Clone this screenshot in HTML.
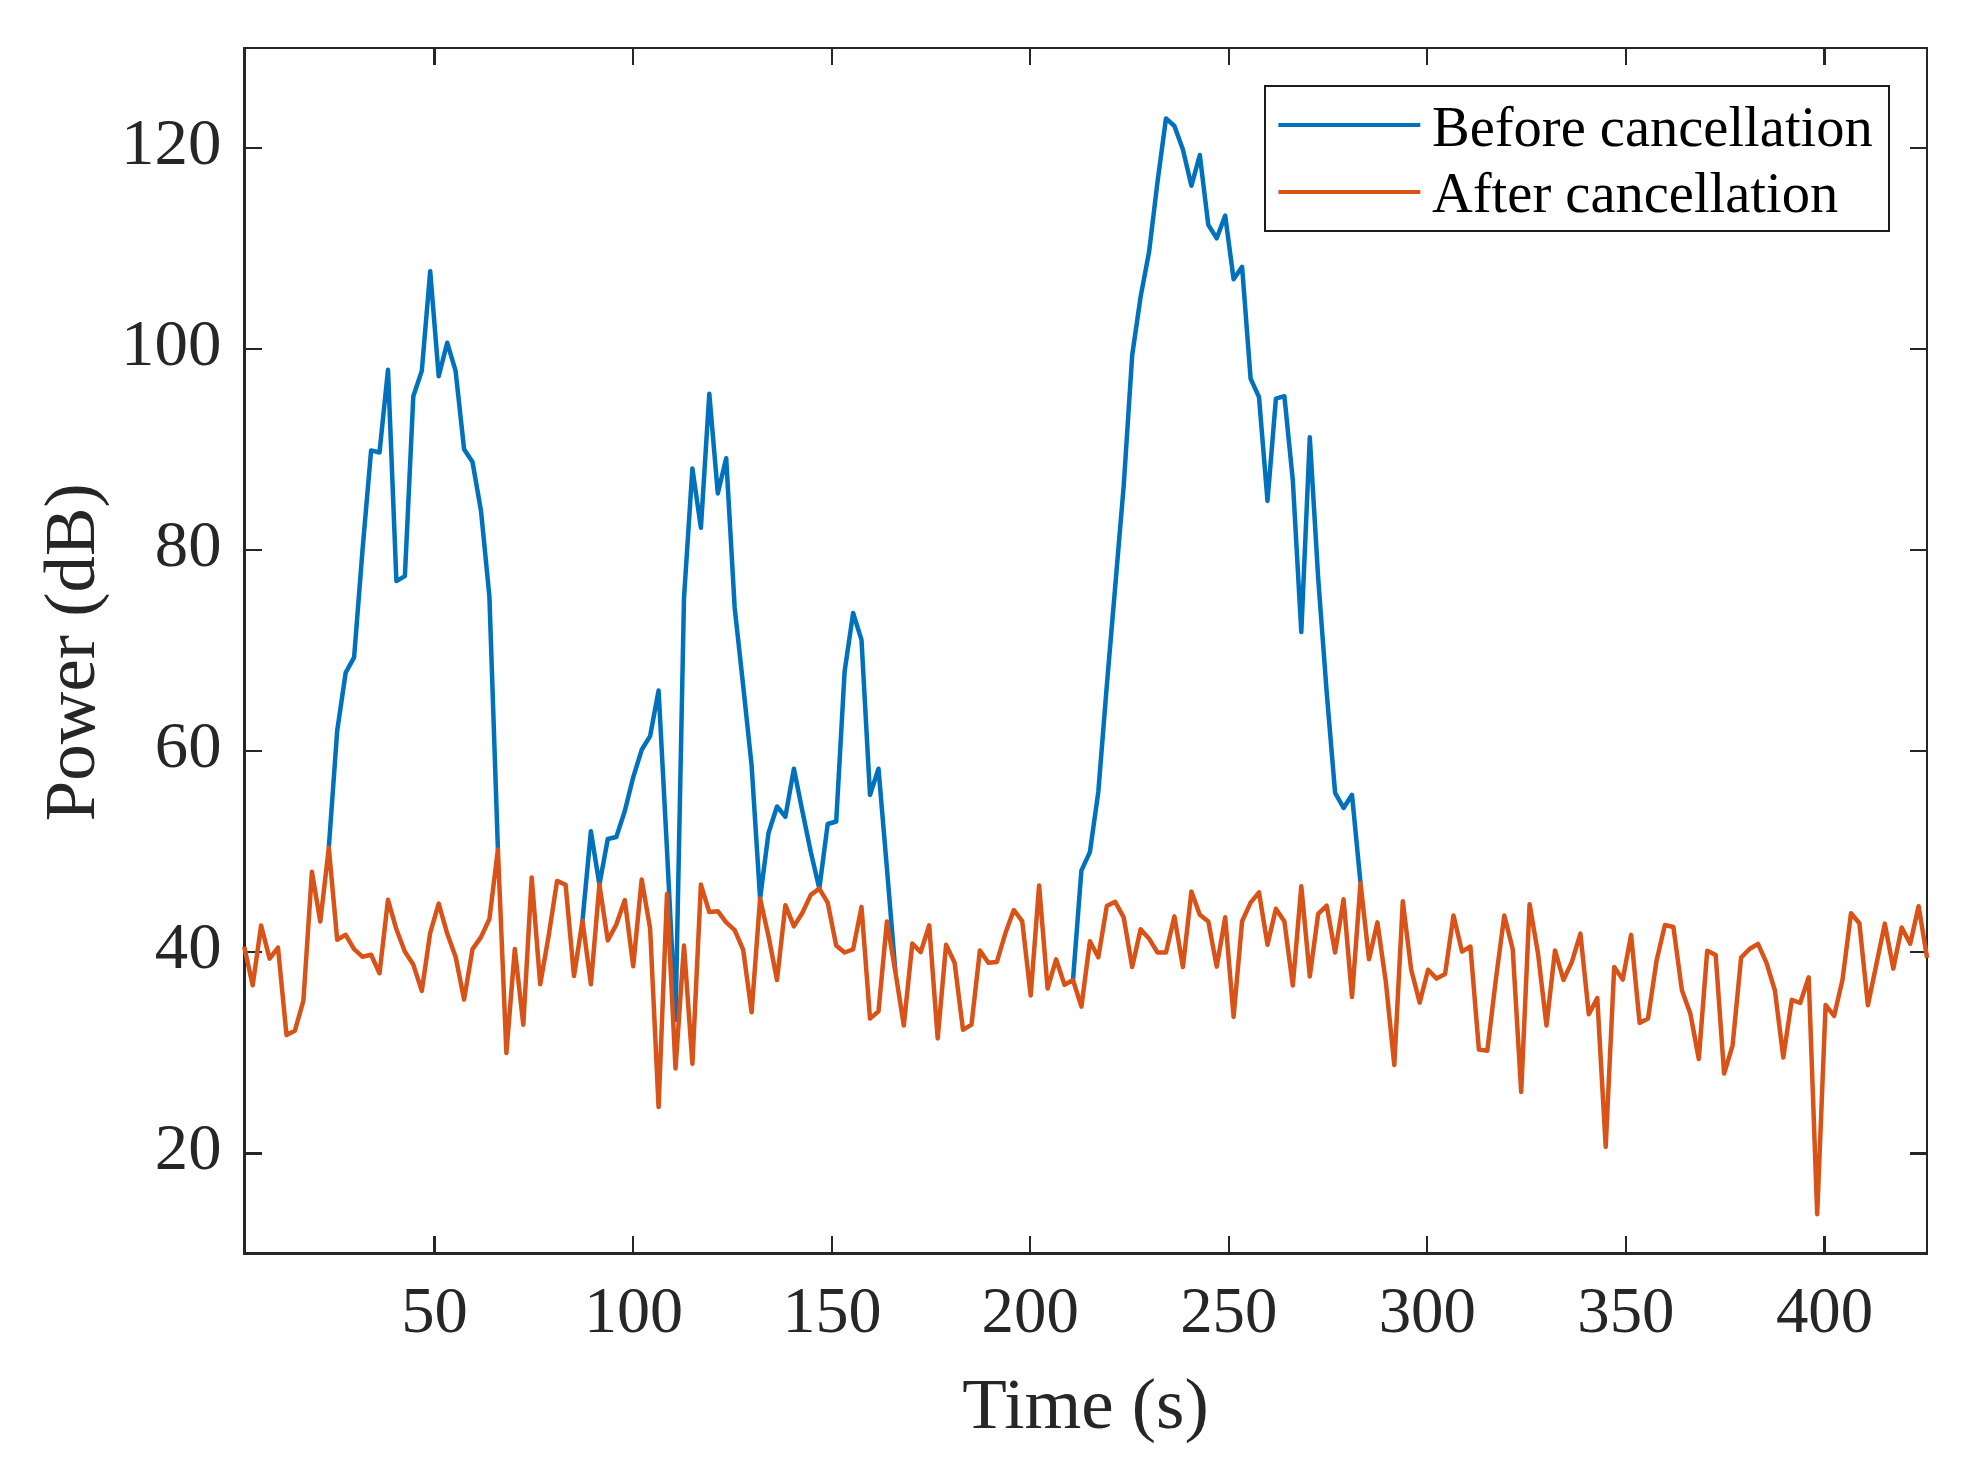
<!DOCTYPE html>
<html lang="en"><head><meta charset="utf-8"><title>Power before and after cancellation</title>
<style>html,body{margin:0;padding:0;background:#fff}svg{display:block}text{font-family:"Liberation Serif","DejaVu Serif",serif}</style></head><body>
<svg width="1979" height="1462" viewBox="0 0 1979 1462">
<rect x="0" y="0" width="1979" height="1462" fill="#ffffff"/>
<g fill="#262626" shape-rendering="crispEdges"><rect x="243" y="47" width="3" height="1208"/><rect x="1926" y="47" width="2" height="1208"/><rect x="243" y="47" width="1685" height="2"/><rect x="243" y="1252" width="1685" height="3"/><rect x="433" y="1236" width="3" height="17"/><rect x="433" y="48" width="3" height="17"/><rect x="632" y="1236" width="2" height="17"/><rect x="632" y="48" width="2" height="17"/><rect x="831" y="1236" width="2" height="17"/><rect x="831" y="48" width="2" height="17"/><rect x="1029" y="1236" width="2" height="17"/><rect x="1029" y="48" width="2" height="17"/><rect x="1228" y="1236" width="2" height="17"/><rect x="1228" y="48" width="2" height="17"/><rect x="1426" y="1236" width="2" height="17"/><rect x="1426" y="48" width="2" height="17"/><rect x="1625" y="1236" width="2" height="17"/><rect x="1625" y="48" width="2" height="17"/><rect x="1823" y="1236" width="3" height="17"/><rect x="1823" y="48" width="3" height="17"/><rect x="245" y="1152" width="17" height="3"/><rect x="1910" y="1152" width="17" height="3"/><rect x="245" y="951" width="17" height="2"/><rect x="1910" y="951" width="17" height="2"/><rect x="245" y="750" width="17" height="2"/><rect x="1910" y="750" width="17" height="2"/><rect x="245" y="549" width="17" height="2"/><rect x="1910" y="549" width="17" height="2"/><rect x="245" y="348" width="17" height="2"/><rect x="1910" y="348" width="17" height="2"/><rect x="245" y="147" width="17" height="2"/><rect x="1910" y="147" width="17" height="2"/></g>
<polyline fill="none" stroke="#0072BD" stroke-width="4.50" stroke-linejoin="round" stroke-linecap="butt" points="328.8,847.7 337.2,730.7 345.7,672.7 354.1,657.4 362.6,549.0 371.1,450.4 379.5,452.5 388.0,369.8 396.4,581.1 404.9,576.1 413.3,396.3 421.8,370.9 430.2,271.2 438.7,376.2 447.2,342.7 455.6,370.9 464.1,449.3 472.5,462.0 481.0,510.8 489.4,596.4 497.9,849.5"/>
<polyline fill="none" stroke="#0072BD" stroke-width="4.50" stroke-linejoin="round" stroke-linecap="butt" points="582.5,920.7 590.9,831.3 599.4,884.6 607.8,839.0 616.3,837.0 624.8,811.0 633.2,777.3 641.7,749.8 650.1,736.1 658.6,690.5 667.0,850.0 675.5,1020.0 684.0,598.0 692.4,468.5 700.9,527.8 709.3,393.7 717.8,493.4 726.2,458.2 734.7,608.0 743.2,686.0 751.6,765.3 760.1,898.4 768.5,833.0 777.0,806.5 785.4,816.7 793.9,768.7 802.3,810.7 810.8,852.0 819.3,888.6 827.7,824.0 836.2,821.5 844.6,671.6 853.1,613.0 861.5,639.8 870.0,795.0 878.5,768.7 886.9,868.0 895.4,971.8"/>
<polyline fill="none" stroke="#0072BD" stroke-width="4.50" stroke-linejoin="round" stroke-linecap="butt" points="1073.0,980.0 1081.4,870.6 1089.9,852.1 1098.3,792.0 1106.8,685.7 1115.2,586.8 1123.7,485.9 1132.2,355.1 1140.6,296.9 1149.1,251.7 1157.5,182.1 1166.0,118.4 1174.4,126.0 1182.9,149.4 1191.4,185.8 1199.8,155.0 1208.3,224.9 1216.7,238.3 1225.2,215.6 1233.6,279.3 1242.1,266.8 1250.6,378.6 1259.0,397.0 1267.5,500.9 1275.9,398.7 1284.4,396.2 1292.8,480.0 1301.3,632.1 1309.8,437.3 1318.2,578.4 1326.7,692.4 1335.1,792.8 1343.6,808.0 1352.0,794.8 1360.5,882.9"/>
<polyline fill="none" stroke="#D95319" stroke-width="4.50" stroke-linejoin="round" stroke-linecap="butt" points="244.2,946.8 252.7,985.2 261.1,925.6 269.6,958.6 278.0,947.6 286.5,1035.0 294.9,1030.7 303.4,1000.7 311.9,871.8 320.3,921.6 328.8,847.7 337.2,939.7 345.7,934.8 354.1,949.1 362.6,956.8 371.1,954.8 379.5,973.2 388.0,899.8 396.4,929.3 404.9,951.7 413.3,964.6 421.8,990.9 430.2,932.8 438.7,903.6 447.2,933.6 455.6,956.8 464.1,999.5 472.5,949.1 481.0,937.1 489.4,919.0 497.9,849.5 506.4,1053.1 514.8,949.1 523.3,1024.7 531.7,877.5 540.2,984.3 548.6,936.2 557.1,880.9 565.6,884.7 574.0,976.1 582.5,920.7 590.9,984.3 599.4,884.6 607.8,940.4 616.3,924.6 624.8,900.1 633.2,966.2 641.7,879.5 650.1,928.4 658.6,1107.1 667.0,894.1 675.5,1068.5 684.0,945.6 692.4,1063.8 700.9,884.6 709.3,912.1 717.8,911.2 726.2,922.4 734.7,930.1 743.2,949.9 751.6,1012.3 760.1,898.4 768.5,936.2 777.0,980.0 785.4,905.2 793.9,926.4 802.3,913.0 810.8,894.9 819.3,888.6 827.7,902.6 836.2,945.6 844.6,952.5 853.1,949.4 861.5,906.9 870.0,1018.6 878.5,1011.2 886.9,921.5 895.4,971.8 903.8,1025.5 912.3,943.5 920.7,952.1 929.2,925.3 937.7,1038.4 946.1,944.7 954.6,962.8 963.0,1029.8 971.5,1024.6 979.9,950.4 988.4,962.8 996.9,961.9 1005.3,933.6 1013.8,910.0 1022.2,921.2 1030.7,995.4 1039.1,885.5 1047.6,988.6 1056.1,959.3 1064.5,984.8 1073.0,980.0 1081.4,1006.6 1089.9,941.3 1098.3,957.3 1106.8,906.1 1115.2,901.8 1123.7,917.3 1132.2,967.1 1140.6,929.3 1149.1,938.7 1157.5,952.5 1166.0,952.5 1174.4,916.4 1182.9,967.1 1191.4,891.5 1199.8,914.7 1208.3,921.4 1216.7,966.6 1225.2,917.3 1233.6,1016.9 1242.1,921.2 1250.6,902.6 1259.0,892.3 1267.5,944.7 1275.9,908.7 1284.4,921.5 1292.8,985.5 1301.3,886.3 1309.8,976.5 1318.2,913.8 1326.7,905.7 1335.1,952.5 1343.6,899.2 1352.0,997.1 1360.5,882.9 1369.0,959.3 1377.4,922.4 1385.9,982.5 1394.3,1065.0 1402.8,901.3 1411.2,969.7 1419.7,1002.6 1428.1,969.7 1436.6,978.6 1445.1,974.0 1453.5,915.5 1462.0,951.6 1470.4,946.5 1478.9,1049.6 1487.3,1050.8 1495.8,980.0 1504.3,915.5 1512.7,949.0 1521.2,1092.0 1529.6,904.2 1538.1,954.2 1546.5,1025.5 1555.0,950.4 1563.5,980.0 1571.9,961.9 1580.4,933.6 1588.8,1014.3 1597.3,998.0 1605.7,1146.9 1614.2,967.1 1622.7,979.6 1631.1,934.9 1639.6,1022.9 1648.0,1018.6 1656.5,961.1 1664.9,925.0 1673.4,927.0 1681.9,990.3 1690.3,1013.5 1698.8,1059.0 1707.2,950.8 1715.7,955.1 1724.1,1073.6 1732.6,1045.3 1741.1,957.6 1749.5,949.0 1758.0,943.8 1766.4,962.7 1774.9,990.5 1783.3,1057.4 1791.8,999.8 1800.2,1003.0 1808.7,977.3 1817.2,1214.2 1825.6,1004.9 1834.1,1016.0 1842.5,979.8 1851.0,913.2 1859.4,923.3 1867.9,1005.3 1876.4,964.3 1884.8,923.6 1893.3,968.6 1901.7,927.5 1910.2,943.8 1918.6,906.2 1927.1,957.8"/>
<text x="434.5" y="1331.6" font-size="66" fill="#262626" text-anchor="middle" textLength="66.7" lengthAdjust="spacingAndGlyphs">50</text>
<text x="633.5" y="1331.6" font-size="66" fill="#262626" text-anchor="middle" textLength="99.2" lengthAdjust="spacingAndGlyphs">100</text>
<text x="832.0" y="1331.6" font-size="66" fill="#262626" text-anchor="middle" textLength="99.2" lengthAdjust="spacingAndGlyphs">150</text>
<text x="1030.2" y="1331.6" font-size="66" fill="#262626" text-anchor="middle" textLength="97.2" lengthAdjust="spacingAndGlyphs">200</text>
<text x="1228.8" y="1331.6" font-size="66" fill="#262626" text-anchor="middle" textLength="97.2" lengthAdjust="spacingAndGlyphs">250</text>
<text x="1427.3" y="1331.6" font-size="66" fill="#262626" text-anchor="middle" textLength="97.2" lengthAdjust="spacingAndGlyphs">300</text>
<text x="1625.9" y="1331.6" font-size="66" fill="#262626" text-anchor="middle" textLength="97.2" lengthAdjust="spacingAndGlyphs">350</text>
<text x="1824.5" y="1331.6" font-size="66" fill="#262626" text-anchor="middle" textLength="97.2" lengthAdjust="spacingAndGlyphs">400</text>
<text x="221.5" y="1169.0" font-size="66" fill="#262626" text-anchor="end" textLength="66.7" lengthAdjust="spacingAndGlyphs">20</text>
<text x="221.5" y="967.9" font-size="66" fill="#262626" text-anchor="end" textLength="66.7" lengthAdjust="spacingAndGlyphs">40</text>
<text x="221.5" y="766.9" font-size="66" fill="#262626" text-anchor="end" textLength="66.7" lengthAdjust="spacingAndGlyphs">60</text>
<text x="221.5" y="565.8" font-size="66" fill="#262626" text-anchor="end" textLength="66.7" lengthAdjust="spacingAndGlyphs">80</text>
<text x="221.5" y="364.8" font-size="66" fill="#262626" text-anchor="end" textLength="100.4" lengthAdjust="spacingAndGlyphs">100</text>
<text x="221.5" y="163.7" font-size="66" fill="#262626" text-anchor="end" textLength="100.4" lengthAdjust="spacingAndGlyphs">120</text>
<text x="1085.5" y="1428" font-size="71" fill="#262626" text-anchor="middle" textLength="246.5" lengthAdjust="spacingAndGlyphs">Time (s)</text>
<text transform="translate(94.4,652.2) rotate(-90)" font-size="71.8" fill="#262626" text-anchor="middle" textLength="338" lengthAdjust="spacingAndGlyphs">Power (dB)</text>
<rect x="1265" y="86" width="624" height="145" fill="#ffffff" stroke="#1c1c1c" stroke-width="2" shape-rendering="crispEdges"/>
<path d="M1278.4 125H1420.3" stroke="#0072BD" stroke-width="4"/>
<path d="M1278.4 192H1420.3" stroke="#D95319" stroke-width="4"/>
<text x="1432" y="145.9" font-size="56.5" fill="#000">Before cancellation</text>
<text x="1432" y="211.6" font-size="56.5" fill="#000">After cancellation</text>
</svg></body></html>
